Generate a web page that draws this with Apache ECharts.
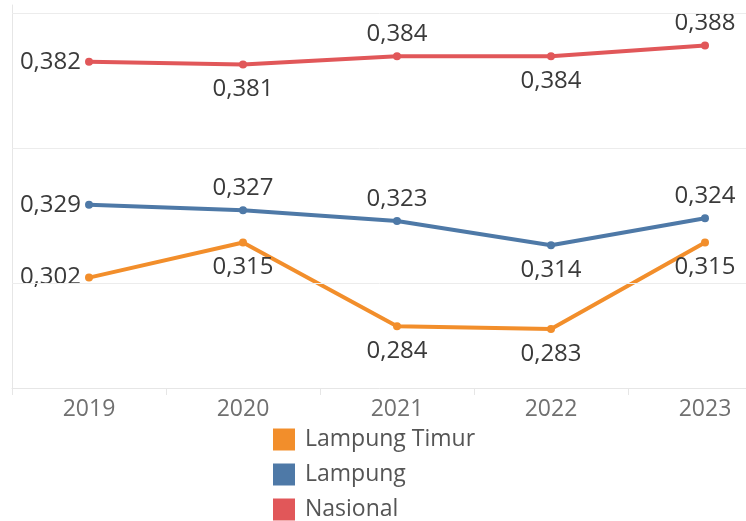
<!DOCTYPE html>
<html>
<head>
<meta charset="utf-8">
<script src="https://cdn.jsdelivr.net/npm/echarts@6/dist/echarts.min.js"></script>
<style>
  html, body { margin: 0; padding: 0; background: #fff; }
  #chart { width: 746px; height: 521px; }
</style>
</head>
<body>
<div id="chart"></div>
<script>
// data
var years = ["2019", "2020", "2021", "2022", "2023"];
var lampungTimur = [0.302, 0.315, 0.284, 0.283, 0.315];
var lampung = [0.329, 0.327, 0.323, 0.314, 0.324];
var nasional = [0.382, 0.381, 0.384, 0.384, 0.388];
var gridValues = [0.30, 0.35, 0.40];

// where each value label sits (left / top / bottom)
var posTimur = ["left", "bottom", "bottom", "bottom", "bottom"];
var posLampung = ["left", "top", "top", "bottom", "top"];
var posNasional = ["left", "bottom", "top", "bottom", "top"];

var FONT = "'Open Sans', sans-serif";
var gap = { left: 4, top: 6, bottom: 9 };

function fmt(v) {
  return v.toFixed(3).replace(".", ",");
}

function makeSeries(name, values, positions, color) {
  return {
    name: name,
    type: "line",
    data: values.map(function (v, i) {
      return {
        value: v,
        label: { position: positions[i], distance: gap[positions[i]] }
      };
    }),
    symbol: "circle",
    symbolSize: 8,
    lineStyle: { width: 4, color: color },
    itemStyle: { color: color },
    clip: false,
    z: 3,
    label: {
      show: true,
      color: "#3a3a3a",
      fontSize: 24,
      fontFamily: FONT,
      formatter: function (p) { return fmt(p.value); }
    },
    emphasis: { disabled: true }
  };
}

var myChart = echarts.init(document.getElementById("chart"));

myChart.setOption({
  animation: false,
  grid: { left: 12, top: 5, width: 770, height: 383, containLabel: false, outerBoundsMode: "none" },
  legend: {
    data: ["Lampung Timur", "Lampung", "Nasional"],
    orient: "vertical",
    left: 273,
    top: 428,
    padding: 0,
    height: 100,
    icon: "rect",
    itemWidth: 22,
    itemHeight: 22,
    itemGap: 12,
    textStyle: { color: "#555", fontSize: 23, fontFamily: FONT, padding: [0, 0, 0, 5] }
  },
  xAxis: {
    type: "category",
    data: years,
    boundaryGap: true,
    axisLine: { lineStyle: { color: "#e6e6e6", width: 1 } },
    axisTick: { show: true, interval: 0, length: 7, lineStyle: { color: "#e6e6e6" } },
    axisLabel: { color: "#707070", fontSize: 23, fontFamily: FONT, margin: 10 },
    splitLine: { show: false }
  },
  yAxis: {
    type: "value",
    min: 0.2611,
    max: 0.403,
    axisLine: { show: true, lineStyle: { color: "#e6e6e6", width: 1 } },
    axisTick: { show: false },
    axisLabel: { show: false },
    splitLine: { show: false }
  },
  series: [
    {
      name: "grid",
      type: "line",
      data: [],
      z: 1,
      markLine: {
        silent: true,
        symbol: "none",
        label: { show: false },
        lineStyle: { color: "#ececec", width: 1, type: "solid" },
        data: gridValues.map(function (v) { return { yAxis: v }; })
      }
    },
    makeSeries("Lampung Timur", lampungTimur, posTimur, "#f28e2b"),
    makeSeries("Lampung", lampung, posLampung, "#4e79a7"),
    makeSeries("Nasional", nasional, posNasional, "#e15759")
  ]
});
</script>
</body>
</html>
